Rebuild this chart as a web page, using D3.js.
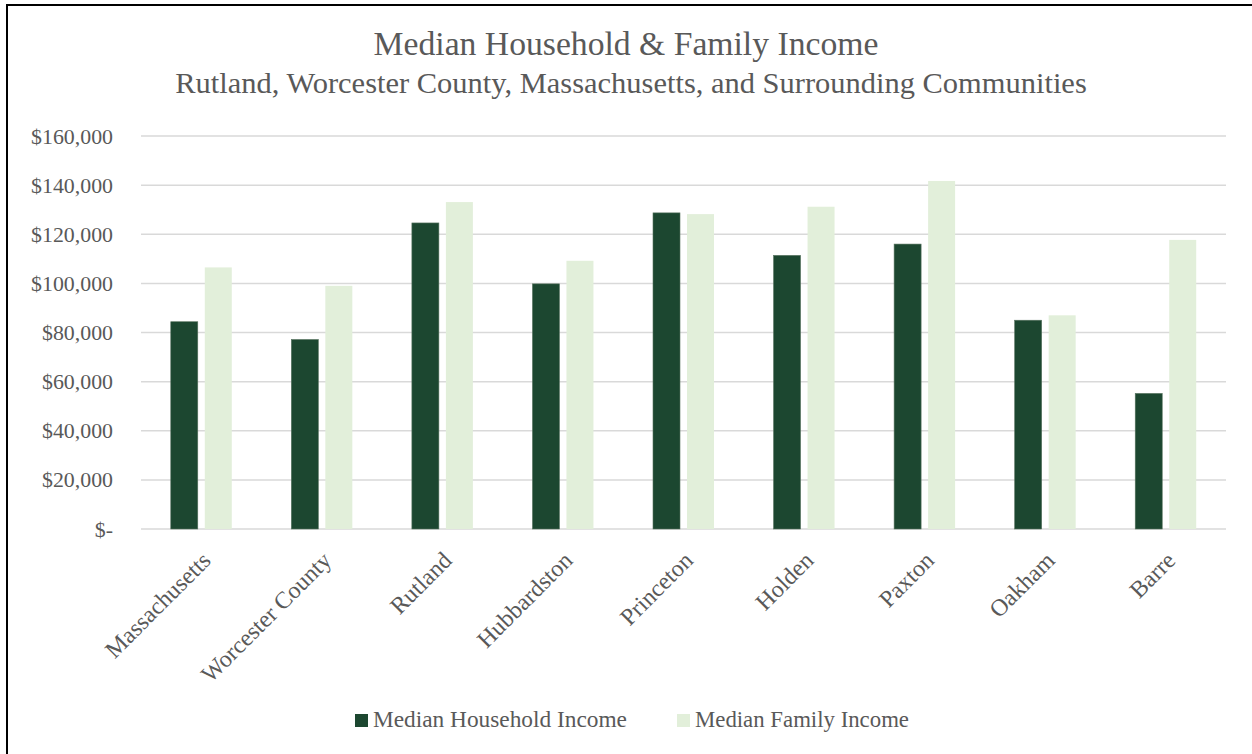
<!DOCTYPE html>
<html>
<head>
<meta charset="utf-8">
<script src="https://cdn.jsdelivr.net/npm/d3@7"></script>
<style>
  html, body { margin: 0; padding: 0; background: #fff; }
  svg { display: block; }
  text { font-family: "Liberation Serif", "DejaVu Serif", serif; fill: #595959; }
</style>
</head>
<body>
<svg id="chart" width="1252" height="754"></svg>
<script>
// Median incomes by community
const categories = ["Massachusetts", "Worcester County", "Rutland", "Hubbardston", "Princeton", "Holden", "Paxton", "Oakham", "Barre"];
const seriesNames = ["Median Household Income", "Median Family Income"];
const householdIncome = [84385, 77155, 124600, 99800, 128700, 111400, 116000, 85000, 55200];
const familyIncome = [106500, 99000, 133100, 109200, 128200, 131200, 141700, 87000, 117700];
const yTicks = [0, 20000, 40000, 60000, 80000, 100000, 120000, 140000, 160000];
const titleText = "Median Household & Family Income";
const subtitleText = "Rutland, Worcester County, Massachusetts, and Surrounding Communities";

const colors = ["#1c4730", "#e2efda"];

const svg = d3.select("#chart");
const W = 1252, H = 754;

// Frame around the chart area
svg.append("line").attr("x1", 7).attr("x2", 7).attr("y1", 4).attr("y2", H)
  .attr("stroke", "#000").attr("stroke-width", 2);
svg.append("line").attr("x1", 6).attr("x2", W).attr("y1", 5).attr("y2", 5)
  .attr("stroke", "#000").attr("stroke-width", 2);

// Scale text so it spans the requested width
function fitWidth(sel, width, base) {
  sel.style("font-size", base + "px");
  const len = sel.node().getComputedTextLength();
  sel.style("font-size", (base * width / len).toFixed(2) + "px");
}

// Titles
const t1 = svg.append("text").attr("x", 626).attr("y", 55).attr("text-anchor", "middle").text(titleText);
fitWidth(t1, 505, 28);
const t2 = svg.append("text").attr("x", 631).attr("y", 93).attr("text-anchor", "middle").text(subtitleText);
fitWidth(t2, 912, 22);

// Plot area
const plot = { left: 141, right: 1226, top: 136, bottom: 529 };

const x0 = d3.scaleBand().domain(categories).range([plot.left, plot.right]).paddingInner(0).paddingOuter(0);
const groupW = 61;
const x1 = d3.scaleBand().domain(seriesNames).range([0, groupW]).paddingInner(7 / 34).paddingOuter(0);
const y = d3.scaleLinear().domain([0, 160000]).range([plot.bottom, plot.top]);

// Gridlines
svg.append("g").selectAll("line").data(yTicks).join("line")
  .attr("x1", plot.left).attr("x2", plot.right)
  .attr("y1", d => y(d)).attr("y2", d => y(d))
  .attr("stroke", "#d9d9d9").attr("stroke-width", 1.5);

// Y axis labels (accounting format)
const fmt = d => d === 0 ? "$-" : "$" + d3.format(",")(d);
const yAxis = svg.append("g").attr("transform", `translate(${plot.left - 28},0)`)
  .call(d3.axisLeft(y).tickValues(yTicks).tickFormat(fmt).tickSize(0).tickPadding(0));
yAxis.select(".domain").remove();
yAxis.selectAll("text").style("fill", "#595959").style("font-family", "'Liberation Serif', serif");
const topLabel = yAxis.selectAll("text").filter(d => d === 160000);
fitWidth(topLabel, 82, 18);
const yFont = topLabel.style("font-size");
yAxis.selectAll("text").style("font-size", yFont);

// Bars
const values = [householdIncome, familyIncome];
const groups = svg.append("g").selectAll("g").data(categories).join("g")
  .attr("transform", d => `translate(${x0(d) + x0.bandwidth() / 2 - groupW / 2},0)`);
groups.selectAll("rect")
  .data((d, i) => seriesNames.map((s, j) => ({ series: s, j, value: values[j][i] })))
  .join("rect")
  .attr("x", d => x1(d.series))
  .attr("width", x1.bandwidth())
  .attr("y", d => y(d.value))
  .attr("height", d => y(0) - y(d.value))
  .attr("fill", d => colors[d.j])
  .attr("stroke", d => d.j === 0 ? "#57735f" : "none")
  .attr("stroke-width", 0.6);

// Category labels, rotated
const xLabels = svg.append("g").selectAll("text").data(categories).join("text")
  .attr("text-anchor", "end")
  .attr("dy", "0.35em")
  .attr("transform", d => `translate(${x0(d) + x0.bandwidth() / 2 + 5},${plot.bottom + 27}) rotate(-45)`)
  .text(d => d);
fitWidth(xLabels.filter(d => d === "Massachusetts"), 138, 18);
const xFont = xLabels.filter(d => d === "Massachusetts").style("font-size");
xLabels.style("font-size", xFont);

// Legend
const legendX = [355, 677];
const legendW = [254, 214];
const legend = svg.append("g").selectAll("g").data(seriesNames).join("g");
legend.append("rect")
  .attr("x", (d, i) => legendX[i]).attr("y", 714)
  .attr("width", 13).attr("height", 13)
  .attr("fill", (d, i) => colors[i]);
legend.append("text")
  .attr("x", (d, i) => legendX[i] + 18).attr("y", 727)
  .text(d => d)
  .each(function (d, i) { fitWidth(d3.select(this), legendW[i], 20); });
</script>
</body>
</html>
